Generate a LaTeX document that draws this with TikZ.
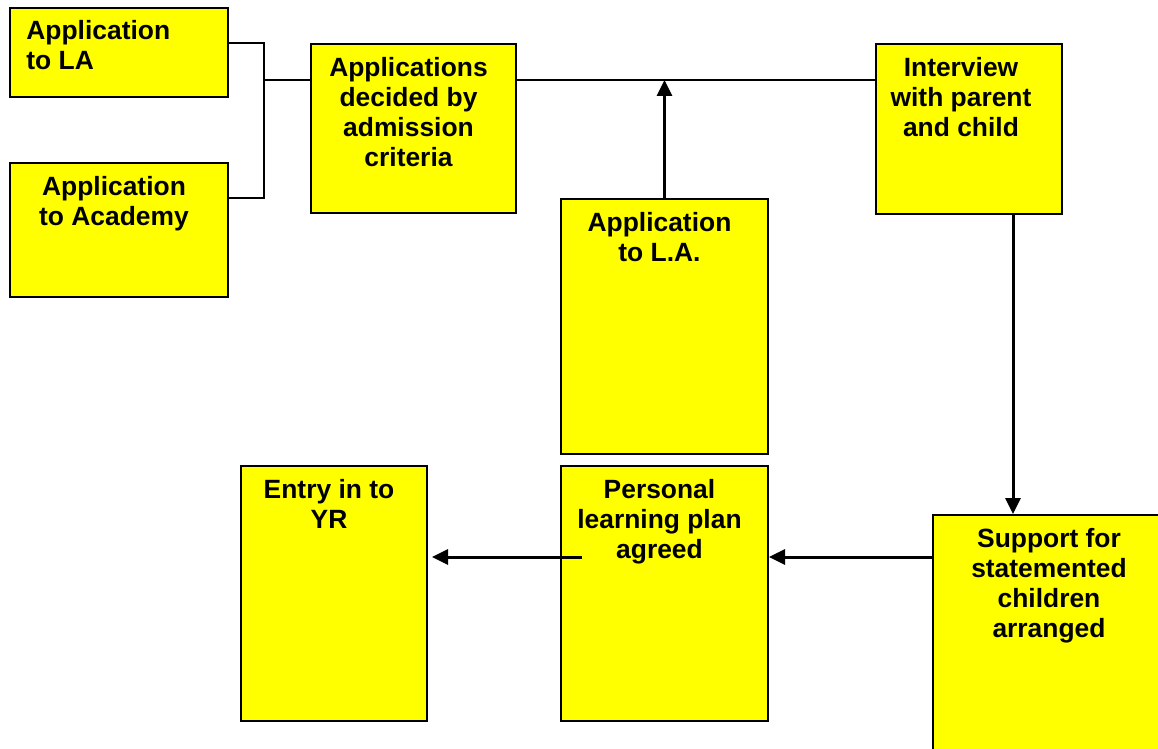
\documentclass[tikz,border=0pt]{standalone}
\usepackage{fontspec}
\setmainfont{Liberation Sans}
\usetikzlibrary{positioning,calc,arrows.meta}
\definecolor{cardyellow}{RGB}{255,255,0}

\begin{document}
\begin{tikzpicture}[x=0.5pt,y=-0.5pt,
	  >={Triangle[length=8pt,width=7.5pt]},
	  box/.style={draw,line width=1pt,fill=cardyellow,anchor=north west,inner sep=0pt},
	  txt/.style={font=\bfseries\fontsize{13.2}{15}\selectfont,align=center,inner sep=0pt},
	  link/.style={line width=0.75pt},
	  flow/.style={line width=1.5pt,->}]
	  \useasboundingbox (0,0) rectangle (1158,749);
	  % boxes
	  \node[box,minimum width=109pt,minimum height=44.5pt] (la) at (9,7) {};
	  \node[box,minimum width=109pt,minimum height=67pt] (aca) at (9,162) {};
	  \node[box,minimum width=102.5pt,minimum height=84.5pt] (dec) at (310,43) {};
	  \node[box,minimum width=93pt,minimum height=85pt] (int) at (875,43) {};
	  \node[box,minimum width=103.5pt,minimum height=127.5pt] (app) at (560,198) {};
	  \node[box,minimum width=93pt,minimum height=127.5pt] (ent) at (240,465) {};
	  \node[box,minimum width=103.5pt,minimum height=127.5pt] (per) at (560,465) {};
	  \node[box,minimum width=116pt,minimum height=121pt] (sup) at (932,514) {};
	  % texts
	  \node[txt,align=left,below right=6.5pt and 8.5pt of la.north west] (la-t) {Application\\to LA};
	  \node[txt,below=7pt of aca.north,xshift=-2.5pt] (aca-t) {Application\\to Academy};
	  \node[txt,below=7pt of dec.north,xshift=-2.5pt] (dec-t) {Applications\\decided by\\admission\\criteria};
	  \node[txt,below=7pt of int.north,xshift=-4pt] (int-t) {Interview\\with parent\\and child};
	  \node[txt,below=7pt of app.north,xshift=-2.5pt] (app-t) {Application\\to L.A.};
	  \node[txt,below=7pt of ent.north,xshift=-2.5pt] (ent-t) {Entry in to\\YR};
	  \node[txt,below=7pt of per.north,xshift=-2.5pt] (per-t) {Personal\\learning plan\\agreed};
	  \node[txt,below=7pt of sup.north] (sup-t) {Support for\\statemented\\children\\arranged};
	  % connectors
	  \coordinate (j) at ($(la.north east)+(35,73)$);
	  \coordinate (laj) at ($(la.north east)+(0,36)$);
	  \coordinate (acaj) at ($(aca.north east)+(0,36)$);
	  \coordinate (top) at ($(dec.north east)+(0,37)$);
	  \coordinate (down) at ($(int.south east)+(-50,0)$);
	  \coordinate (back) at ($(sup.north west)+(0,43)$);
	  \coordinate (fwd) at ($(per.north west)+(22,92)$);
	  \draw[link] (laj) -| (j |- acaj) -- (acaj);
	  \draw[link] (j) -- (j -| dec.west);
	  \draw[link] (top) -- (top -| int.west);
	  \draw[flow] (app.north) -- (app.north |- top);
	  \draw[flow] (down) -- (down |- sup.north);
	  \draw[flow] (back) -- (back -| per.east);
	  \draw[flow,shorten >=2pt] (fwd) -- (fwd -| ent.east);
	\end{tikzpicture}
\end{document}
